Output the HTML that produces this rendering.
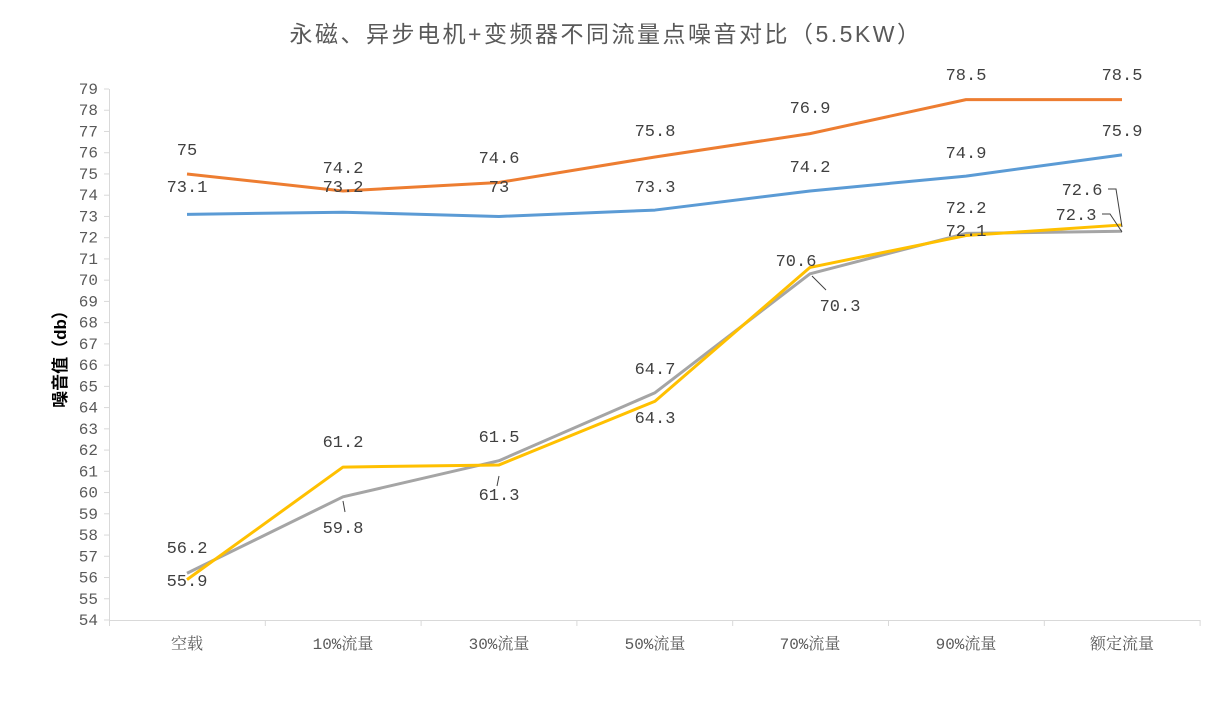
<!DOCTYPE html>
<html><head><meta charset="utf-8"><style>
body{margin:0;background:#fff}
svg text{font-family:"Liberation Mono","Noto Serif CJK SC",monospace}
</style></head><body>
<svg width="1218" height="720" xmlns="http://www.w3.org/2000/svg">
<text x="606" y="42" text-anchor="middle" font-size="23" letter-spacing="2.5" fill="#595959" style="font-family:'Liberation Sans','Noto Sans CJK SC',sans-serif">永磁、异步电机+变频器不同流量点噪音对比（5.5KW）</text>
<text transform="translate(66,355) rotate(-90)" text-anchor="middle" font-size="17" font-weight="bold" fill="#000" style="font-family:'Liberation Sans','Noto Sans CJK SC',sans-serif">噪音值（db）</text>
<g stroke="#d9d9d9" stroke-width="1">
<line x1="109.5" y1="89" x2="109.5" y2="620"/>
<line x1="109" y1="620.5" x2="1200" y2="620.5"/>
</g>
<g id="yt" font-size="16" fill="#595959" text-anchor="end" style="font-family:'Liberation Sans',sans-serif"></g>
<g id="tk" stroke="#d9d9d9"></g>
<g font-size="16" fill="#595959" text-anchor="middle" style="font-family:'Liberation Sans','Noto Sans CJK SC',sans-serif">
<text x="187" y="649">空载</text><text x="343" y="649">10%流量</text><text x="499" y="649">30%流量</text><text x="655" y="649">50%流量</text><text x="810" y="649">70%流量</text><text x="966" y="649">90%流量</text><text x="1122" y="649">额定流量</text>
</g>
<g id="lines" fill="none" stroke-width="3" stroke-linejoin="round"></g>
<g font-size="17" fill="#404040" text-anchor="middle">
<text x="187" y="155">75</text><text x="187" y="192">73.1</text>
<text x="343" y="173">74.2</text><text x="343" y="192">73.2</text>
<text x="499" y="163">74.6</text><text x="499" y="192">73</text>
<text x="655" y="136">75.8</text><text x="655" y="192">73.3</text>
<text x="810" y="113">76.9</text><text x="810" y="172">74.2</text>
<text x="966" y="80">78.5</text><text x="966" y="158">74.9</text>
<text x="1122" y="80">78.5</text><text x="1122" y="136">75.9</text>
<text x="187" y="553">56.2</text><text x="187" y="586">55.9</text>
<text x="343" y="447">61.2</text><text x="343" y="533">59.8</text>
<text x="499" y="442">61.5</text><text x="499" y="500">61.3</text>
<text x="655" y="374">64.7</text><text x="655" y="423">64.3</text>
<text x="796" y="266">70.6</text><text x="840" y="311">70.3</text>
<text x="966" y="213">72.2</text><text x="966" y="236">72.1</text>
<text x="1082" y="195">72.6</text><text x="1076" y="220">72.3</text>
</g>
<g stroke="#404040" stroke-width="1" fill="none">
<polyline points="1108,189 1116,189 1122,227"/>
<polyline points="1102,214 1110,214 1122,232"/>
<line x1="499" y1="476" x2="497" y2="486"/>
<line x1="812" y1="276" x2="826" y2="290"/>
<line x1="343" y1="501" x2="345" y2="512"/>
</g>
</svg>
<script>
const y=v=>620-(v-54)*21.24;
const xs=[187,343,499,655,810,966,1122];
let yt='',tk='';
for(let v=54;v<=79;v++){yt+=`<text x="98" y="${y(v)+5}">${v}</text>`;tk+=`<line x1="104" x2="109" y1="${y(v)}" y2="${y(v)}"/>`;}
for(let i=0;i<=7;i++){const x=109.5+i*155.8;tk+=`<line x1="${x}" x2="${x}" y1="620" y2="626"/>`;}
document.getElementById('yt').innerHTML=yt;document.getElementById('tk').innerHTML=tk;
const S=[['#ed7d31',[75,74.2,74.6,75.8,76.9,78.5,78.5]],['#5b9bd5',[73.1,73.2,73,73.3,74.2,74.9,75.9]],['#a5a5a5',[56.2,59.8,61.5,64.7,70.3,72.2,72.3]],['#ffc000',[55.9,61.2,61.3,64.3,70.6,72.1,72.6]]];
let l='';for(const [c,d] of S){l+=`<polyline stroke="${c}" points="${d.map((v,i)=>xs[i]+','+y(v)).join(' ')}"/>`;}
document.getElementById('lines').innerHTML=l;
</script>
</body></html>
